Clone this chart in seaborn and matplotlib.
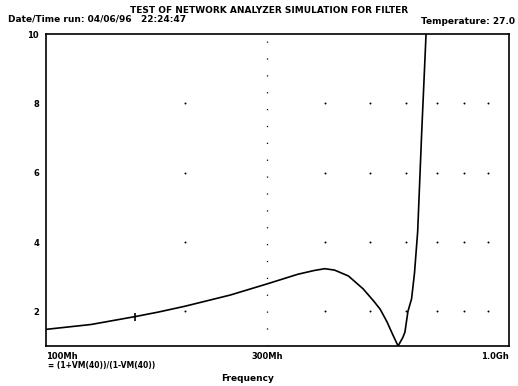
"""
Recreacion de la grafica VSWR del analizador de redes (simulacion de filtro)
"""

import matplotlib
matplotlib.use('Agg')
import matplotlib.pyplot as plt
import numpy as np
import seaborn as sns

# Datos (frecuencia en MHz, VSWR)
freq_mhz = [100, 125, 156, 175, 200, 250, 300, 350, 380, 400, 420, 450, 484,
            510, 527, 545, 560, 576, 590, 596, 605, 616, 625, 635, 648, 655, 662]
vswr = [1.48, 1.62, 1.85, 1.98, 2.15, 2.47, 2.79, 3.07, 3.18, 3.23, 3.19, 3.02,
        2.65, 2.30, 2.06, 1.70, 1.35, 1.00, 1.25, 1.40, 2.00, 2.36, 3.10, 4.30,
        7.20, 8.60, 10.0]

# Marcador de traza sobre la curva
marker_freq = [156]
marker_val = [1.85]

y_ticks = [2, 4, 6, 8, 10]
x_ticks = [100, 300, 1000]
x_labels = ['100Mh', '300Mh', '1.0Gh']
grid_freqs = [200, 400, 500, 600, 700, 800, 900]
grid_rows = [2, 4, 6, 8]

sns.set_style('white')
plt.rcParams['font.family'] = ['DejaVu Sans']
plt.rcParams['text.color'] = 'black'
plt.rcParams['xtick.color'] = 'black'
plt.rcParams['ytick.color'] = 'black'

fig = plt.figure(figsize=(5.18, 3.86), dpi=100)
ax = fig.add_axes([0.0888, 0.1036, 0.8938, 0.8083])

sns.lineplot(x=freq_mhz, y=vswr, ax=ax, color='black', linewidth=1.2)
ax.plot(marker_freq, marker_val, marker='|', color='black', markersize=6,
        markeredgewidth=1.2, linestyle='none')

# Rejilla de puntos
gx, gy = np.meshgrid(grid_freqs, grid_rows)
ax.scatter(gx.ravel(), gy.ravel(), s=2, color='black', linewidths=0)
ax.axvline(300, color='black', lw=0.9, ls=(0, (1, 12.5)))

ax.set_xscale('log')
ax.set_xlim(100, 1000)
ax.set_ylim(1, 10)
ax.set_xticks(x_ticks)
ax.set_xticklabels(x_labels)
ax.minorticks_off()
ax.set_yticks(y_ticks)
ax.tick_params(axis='both', labelsize=6, length=3, width=0.8, direction='out',
               colors='black')
ax.tick_params(axis='x', pad=1)
ax.tick_params(axis='y', pad=2)
for lab in ax.get_xticklabels() + ax.get_yticklabels():
    lab.set_fontweight('bold')
ax.get_xticklabels()[0].set_horizontalalignment('left')
ax.get_xticklabels()[2].set_horizontalalignment('right')

for sp in ax.spines.values():
    sp.set_linewidth(1.2)
    sp.set_color('black')

fig.text(0.52, 0.972, 'TEST OF NETWORK ANALYZER SIMULATION FOR FILTER',
         ha='center', va='center', fontsize=6.5, fontweight='bold')
fig.text(0.015, 0.950, 'Date/Time run: 04/06/96   22:24:47',
         ha='left', va='center', fontsize=6.5, fontweight='bold')
fig.text(0.995, 0.945, 'Temperature: 27.0',
         ha='right', va='center', fontsize=6.5, fontweight='bold')
fig.text(0.093, 0.054, '= (1+VM(40))/(1-VM(40))',
         ha='left', va='center', fontsize=5.5, fontweight='bold')
fig.text(0.478, 0.020, 'Frequency',
         ha='center', va='center', fontsize=6.5, fontweight='bold')

fig.savefig('out.png', dpi=100)
